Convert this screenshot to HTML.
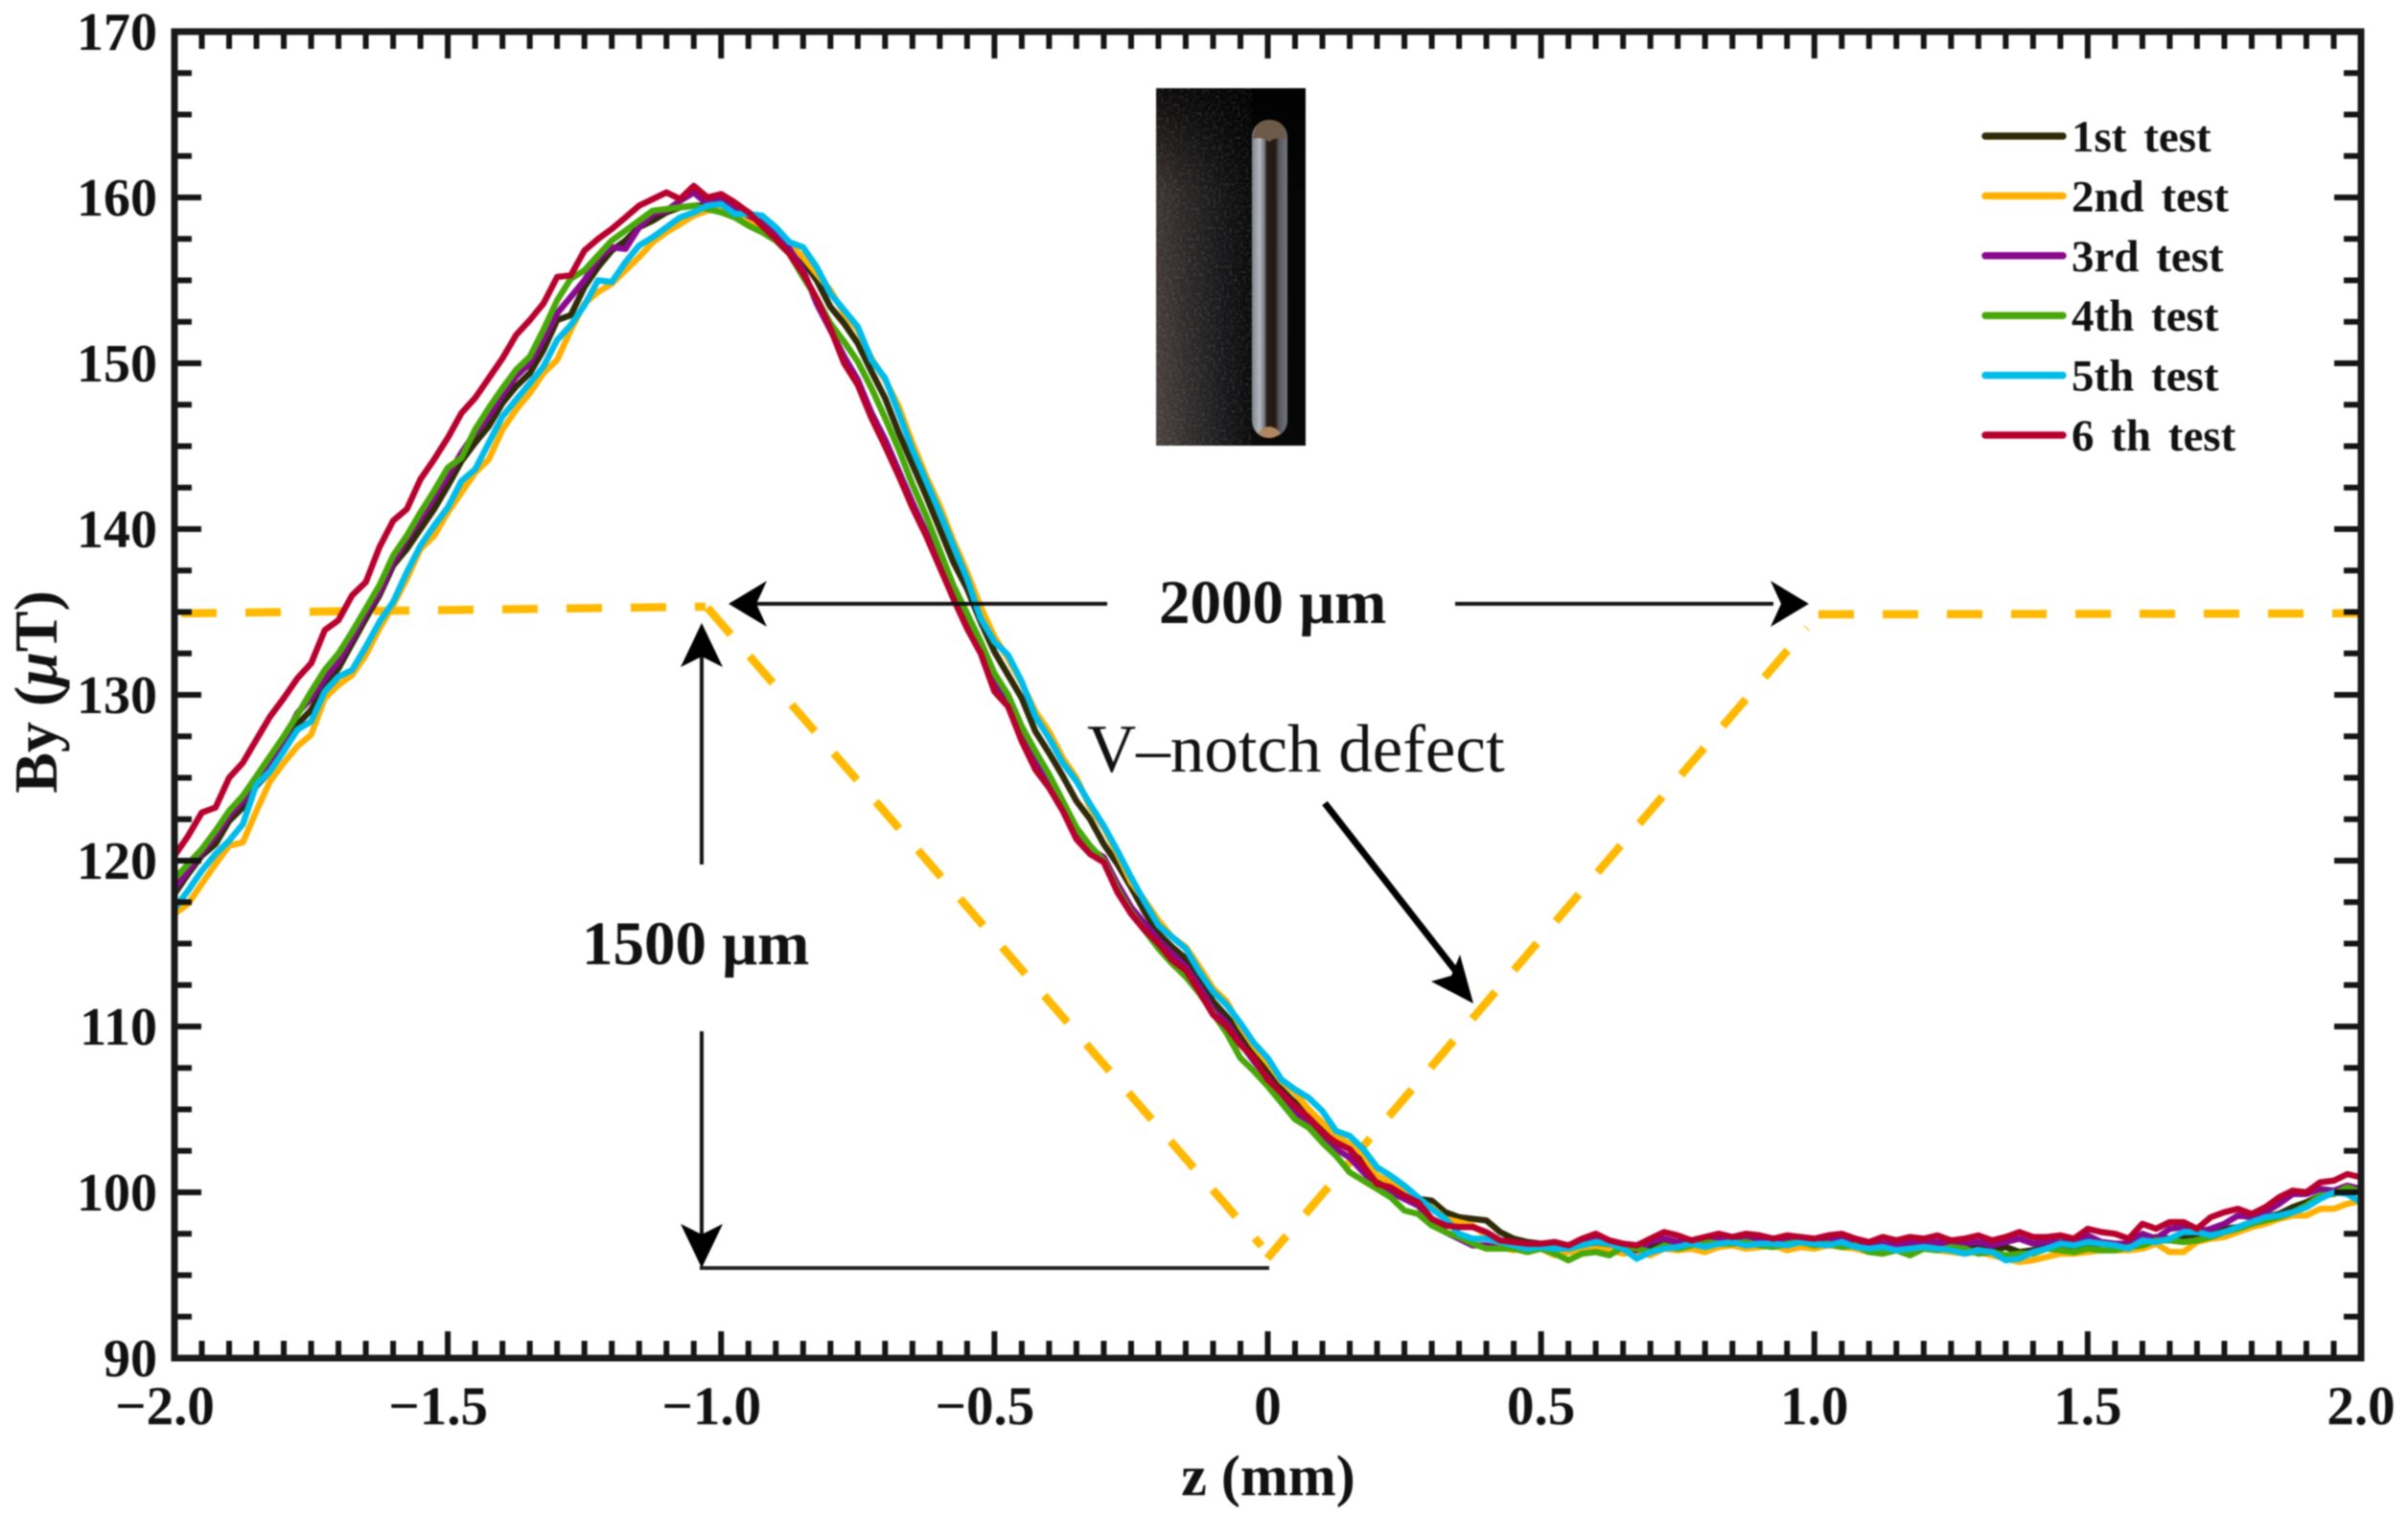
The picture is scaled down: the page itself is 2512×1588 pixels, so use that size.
<!DOCTYPE html>
<html lang="en">
<head>
<meta charset="utf-8">
<title>By versus z for six tests</title>
<style>
html,body{margin:0;padding:0;background:#fff;}
svg{display:block;}
text{font-family:"Liberation Serif",serif;fill:#111;}
.b{font-weight:bold;}
</style>
</head>
<body>
<svg id="chart" xmlns="http://www.w3.org/2000/svg" width="2512" height="1588" viewBox="0 0 2512 1588">
<defs>
<linearGradient id="photoBg" x1="0" x2="1" y1="0" y2="0">
<stop offset="0" stop-color="#4e4340"/><stop offset="0.2" stop-color="#35302f"/><stop offset="0.45" stop-color="#1a1a1c"/><stop offset="0.65" stop-color="#0a0a0b"/><stop offset="1" stop-color="#060606"/>
</linearGradient>
<linearGradient id="photoFade" x1="0" x2="0" y1="0" y2="1">
<stop offset="0" stop-color="#000" stop-opacity="0.85"/><stop offset="0.3" stop-color="#000" stop-opacity="0.2"/><stop offset="1" stop-color="#000" stop-opacity="0"/>
</linearGradient>
<linearGradient id="rodFill" x1="0" x2="1" y1="0" y2="0">
<stop offset="0" stop-color="#80848a"/><stop offset="0.22" stop-color="#b4bac0"/><stop offset="0.36" stop-color="#70747a"/><stop offset="0.42" stop-color="#241c16"/><stop offset="0.66" stop-color="#261a12"/><stop offset="0.76" stop-color="#55585c"/><stop offset="1" stop-color="#74787c"/>
</linearGradient>
<filter id="speckle" x="0" y="0" width="100%" height="100%">
<feTurbulence type="fractalNoise" baseFrequency="0.35" numOctaves="2" seed="4"/>
<feColorMatrix type="matrix" values="0 0 0 0 0.7  0 0 0 0 0.7  0 0 0 0 0.72  1.6 0 0 0 -0.75"/>
</filter>
</defs>
<g id="root" style="filter:blur(0.9px)">
<rect x="0" y="0" width="2512" height="1588" fill="#fff"/>

<g>
<rect x="1206" y="92" width="156" height="373" fill="url(#photoBg)"/>
<rect x="1206" y="92" width="156" height="373" fill="url(#photoFade)"/>
<rect x="1206" y="92" width="100" height="373" filter="url(#speckle)" opacity="0.3"/>
<rect x="1306" y="125" width="37" height="332" rx="18" fill="url(#rodFill)"/>
<path d="M1307 145 Q1308 125 1324 125 Q1341 125 1342 145 Q1332 142 1324 148 Q1316 142 1307 145 Z" fill="#6e5a48"/>
<path d="M1312 452 Q1324 438 1336 452 Q1324 462 1312 452 Z" fill="#b08660"/>
</g>

<g id="dashes" fill="none" stroke="#ffb900" stroke-width="8.5" stroke-dasharray="37 30">
<line x1="189" y1="640" x2="736" y2="633"/>
<line x1="738" y1="634" x2="1316" y2="1300"/>
<line x1="1322" y1="1313" x2="1885" y2="655" stroke-dashoffset="6"/>
<line x1="1897" y1="641" x2="2460" y2="640"/>
</g>

<g id="series"></g>

<g fill="#000" stroke="none">
<line x1="786" y1="630" x2="1155" y2="630" stroke="#111" stroke-width="4"/>
<line x1="1518" y1="630" x2="1850" y2="630" stroke="#111" stroke-width="4"/>
<polygon points="760,630 800,606 789,630 800,654"/>
<polygon points="1887,630 1847,606 1858,630 1847,654"/>
</g>
<text class="b" x="1209" y="650" font-size="65">2000 μm</text>

<g fill="#000" stroke="none">
<line x1="732" y1="680" x2="732" y2="902" stroke="#111" stroke-width="4"/>
<line x1="732" y1="1076" x2="732" y2="1290" stroke="#111" stroke-width="4"/>
<line x1="730" y1="1323" x2="1324" y2="1323" stroke="#222" stroke-width="4"/>
<polygon points="732,650 710,696 732,685 754,696"/>
<polygon points="732,1323 710,1277 732,1288 754,1277"/>
</g>
<text class="b" x="607" y="1006" font-size="65">1500 μm</text>

<text x="1134" y="805" font-size="71">V–notch defect</text>
<g fill="#000">
<line x1="1382" y1="838" x2="1524" y2="1020" stroke="#000" stroke-width="7"/>
<polygon points="1537,1047 1493,1024 1514,1018 1523,996"/>
</g>

<g id="ticks"></g>
<rect x="182" y="33" width="2281" height="1384" fill="none" stroke="#1a1a1a" stroke-width="7"/>
<g id="tickLabels"></g>

<text class="b" x="1323" y="1560" font-size="60" text-anchor="middle">z (mm)</text>
<text class="b" transform="translate(59,722) rotate(-90)" font-size="64" text-anchor="middle">By (<tspan font-style="italic">μ</tspan>T)</text>

<g id="legend"></g>
</g>
</svg>
<script>
const zStart = -2;
const zStep = 0.025;
const xTickValues = [-2, -1.5, -1, -0.5, 0, 0.5, 1, 1.5, 2];
const xTickLabels = ["−2.0", "−1.5", "−1.0", "−0.5", "0", "0.5", "1.0", "1.5", "2.0"];
const yTickValues = [90, 100, 110, 120, 130, 140, 150, 160, 170];
const yTickLabels = ["90", "100", "110", "120", "130", "140", "150", "160", "170"];
const seriesNames = ["1st test", "2nd test", "3rd test", "4th test", "5th test", "6 th test"];
const seriesColors = ["#2f2b08", "#ffb000", "#8a0a8e", "#48a80a", "#00bcea", "#b8002e"];

const test1 = [
118.0,119.2,120.3,121.0,122.4,123.2,124.5,125.4,126.8,128.2,129.1,130.6,131.6,133.1,134.6,136.0,137.8,138.8,140.0,141.2,
142.6,144.1,145.2,146.2,147.6,148.6,149.4,150.8,152.6,152.9,154.6,155.8,156.8,157.4,158.2,158.6,159.1,159.4,159.5,159.5,
159.5,159.3,159.1,158.6,158.0,157.2,156.2,155.0,153.4,152.4,151.2,149.5,147.9,145.8,143.9,142.0,140.0,138.0,136.4,134.4,
132.6,131.2,129.8,127.8,126.5,125.1,123.6,122.5,121.0,119.8,118.4,116.9,115.6,114.8,114.1,112.9,111.5,110.6,109.6,108.4,
107.4,106.2,105.4,105.0,104.0,103.2,102.6,101.8,100.9,100.4,100.0,99.6,99.5,98.8,98.5,98.4,98.3,97.6,97.2,97.0,
96.9,96.6,96.7,96.9,96.8,96.5,96.8,96.6,96.7,96.9,96.8,96.7,97.1,97.0,97.2,97.0,97.1,97.2,96.9,97.1,
97.0,97.2,96.9,97.0,96.7,96.9,96.6,96.8,96.7,96.9,96.6,96.7,96.9,96.5,96.7,96.4,96.5,96.7,96.6,96.8,
96.7,96.9,96.8,96.7,97.0,97.3,97.2,97.3,97.5,97.4,97.8,97.9,98.2,98.5,98.7,99.1,99.4,99.8,99.9,100.2,
100.0];
const test2 = [
116.8,117.4,118.6,119.8,120.9,121.1,123.0,124.8,125.9,126.9,127.6,129.8,130.6,131.2,132.4,134.0,135.4,137.0,138.8,139.6,
141.0,142.2,143.4,144.2,146.0,147.2,148.2,149.4,150.2,152.0,153.6,154.3,154.8,155.6,156.4,157.3,157.9,158.4,158.9,159.2,
159.3,159.0,158.5,158.0,157.8,157.2,156.4,155.4,154.4,153.0,152.0,150.3,149.0,147.4,145.2,143.2,141.4,139.3,137.4,135.3,
133.5,132.2,130.7,129.0,127.8,126.2,125.0,123.2,122.0,120.4,118.7,117.6,116.4,115.4,114.8,113.6,112.3,111.5,110.0,108.8,
107.8,106.7,106.0,105.0,104.2,103.4,102.9,102.3,101.0,100.6,100.0,99.5,99.1,98.4,98.2,98.0,97.4,96.7,96.5,96.8,
96.6,96.2,96.4,96.5,96.6,96.5,96.3,96.4,96.2,96.6,96.5,96.6,96.4,96.7,96.8,96.6,96.7,96.8,96.5,96.7,
96.6,96.8,96.7,96.6,96.4,96.5,96.5,96.3,96.6,96.5,96.4,96.3,96.4,96.2,96.0,95.8,95.9,96.1,96.3,96.3,
96.4,96.5,96.5,96.5,96.6,96.9,96.4,96.4,97.0,97.2,97.3,97.6,97.9,98.1,98.4,98.6,98.6,99.0,99.0,99.3,
99.5];
const test3 = [
118.3,119.4,120.5,121.5,122.7,123.6,125.0,126.0,127.3,128.9,129.8,131.0,132.0,133.4,134.9,136.2,138.0,139.4,140.6,141.9,
143.2,144.6,145.8,146.8,148.1,149.2,150.0,151.4,153.0,154.0,155.0,156.3,157.0,156.9,158.2,159.0,159.2,159.8,160.3,159.6,
159.9,159.4,158.9,158.5,157.7,156.9,155.6,153.6,152.0,150.4,149.0,147.0,145.4,143.5,141.6,139.8,138.0,136.2,134.2,132.6,
130.8,129.5,127.5,126.0,124.8,123.3,121.8,120.7,120.2,118.6,117.2,116.2,115.2,114.4,113.6,112.4,111.0,110.2,109.0,107.9,
106.9,105.9,104.8,104.2,103.3,102.6,102.1,101.2,100.4,100.0,99.6,99.2,98.3,97.6,97.2,96.8,96.8,96.6,96.7,96.6,
96.8,96.9,96.7,97.0,97.2,96.9,96.7,96.5,97.0,97.2,97.0,96.9,97.1,97.2,97.0,97.3,97.1,97.0,97.2,97.1,
97.0,97.1,97.2,97.0,96.8,96.9,96.8,97.0,96.9,97.0,96.8,96.9,97.0,96.8,97.0,97.2,96.9,97.0,97.0,96.9,
97.4,97.0,96.9,96.9,97.5,97.2,97.8,97.9,97.6,97.8,98.1,98.6,98.5,98.8,99.3,99.9,99.9,100.2,100.1,100.4,
100.2];
const test4 = [
118.9,119.8,120.7,121.8,123.0,123.9,125.1,126.3,127.5,128.8,130.2,131.5,132.5,133.8,135.2,136.6,138.4,139.6,141.0,142.3,
143.7,144.3,146.0,147.3,148.5,149.6,150.4,152.0,153.8,155.1,155.6,156.5,157.4,158.0,158.6,159.2,159.3,159.4,159.5,159.3,
159.1,158.8,158.3,157.9,157.4,156.6,155.2,153.9,152.4,151.3,150.1,148.5,146.7,144.8,142.7,140.8,138.7,136.6,134.9,133.2,
131.3,130.0,128.1,126.6,125.2,123.6,122.0,120.9,120.0,118.3,116.9,115.8,114.7,113.8,113.0,112.0,110.8,109.6,108.1,107.3,
106.4,105.4,104.4,103.9,103.0,102.2,101.2,100.7,100.2,99.7,98.9,98.7,98.0,97.6,97.3,96.9,96.6,96.6,96.6,96.4,
96.6,96.3,95.9,96.3,96.4,96.2,96.7,96.6,96.4,96.8,96.6,96.8,97.0,96.9,96.9,97.0,96.8,96.7,96.9,97.0,
96.8,96.9,96.7,96.8,96.4,96.3,96.5,96.2,96.6,96.5,96.7,96.6,96.3,96.4,96.2,96.3,96.3,96.6,96.5,96.4,
96.6,96.5,96.5,96.7,96.8,97.1,97.1,97.0,97.1,97.3,97.6,97.8,98.1,98.3,98.5,98.8,99.2,99.8,99.9,100.3,
100.0];
const test5 = [
117.1,118.2,119.4,120.4,121.2,122.2,124.6,125.4,126.6,127.9,128.4,130.2,131.1,131.5,132.9,134.4,135.6,137.4,139.0,140.2,
141.3,142.9,143.6,145.2,146.8,147.8,148.8,149.8,151.4,152.3,153.5,155.0,154.9,156.1,157.1,157.6,158.2,158.8,159.1,159.5,
159.6,159.0,159.0,158.9,158.2,157.3,157.0,155.8,154.2,153.2,152.2,150.2,149.1,147.0,144.8,142.9,141.0,139.0,137.0,134.6,
133.2,132.4,130.8,128.7,127.4,125.9,124.8,123.4,122.1,120.6,119.0,117.5,116.1,115.4,114.7,113.3,112.1,111.3,110.2,109.0,
108.1,106.8,106.2,105.7,104.9,103.7,103.4,102.6,101.5,101.0,100.4,99.7,99.0,98.4,97.5,97.2,97.2,97.0,96.8,96.6,
96.7,96.6,96.6,96.8,97.0,96.9,96.6,96.0,96.4,96.6,96.7,96.9,96.7,96.9,97.0,96.8,96.9,96.9,96.8,97.0,
96.9,96.8,97.0,96.7,96.6,96.7,96.5,96.6,96.7,96.6,96.5,96.3,96.5,96.4,95.9,96.0,96.4,96.6,96.9,96.8,
97.0,96.9,96.8,96.6,97.1,97.0,97.2,97.6,97.6,97.4,97.6,97.9,98.2,98.5,98.6,98.8,99.1,99.6,100.0,99.9,
99.4];
const test6 = [
120.3,121.5,122.9,123.2,125.0,125.9,127.3,128.7,129.8,131.0,131.9,133.9,134.5,136.0,136.8,138.9,140.5,141.2,143.0,144.2,
145.5,147.0,147.9,149.1,150.3,151.7,152.6,153.6,155.2,155.3,156.8,157.5,158.1,158.8,159.5,159.9,160.3,159.9,160.7,160.0,
160.2,159.7,159.1,158.3,157.5,156.6,155.4,153.9,152.1,150.0,148.7,146.7,145.0,143.2,141.3,139.6,137.7,135.8,134.0,132.5,
130.2,129.3,127.2,125.5,124.4,123.0,121.3,120.4,119.9,118.1,116.8,115.8,115.0,114.0,113.4,112.1,110.7,110.0,108.9,108.1,
106.8,106.0,105.2,104.5,103.6,103.0,102.6,101.6,100.5,100.3,99.8,99.4,98.4,98.0,97.9,97.9,97.6,97.1,97.0,96.9,
96.9,97.0,96.8,97.2,97.5,97.1,96.9,96.8,97.2,97.6,97.4,97.1,97.3,97.5,97.3,97.5,97.4,97.2,97.4,97.3,
97.2,97.4,97.5,97.2,97.0,97.3,97.1,97.3,97.2,97.4,97.1,97.2,97.4,97.1,97.3,97.6,97.3,97.3,97.4,97.2,
97.8,97.6,97.5,97.2,98.1,97.8,98.2,98.2,97.8,98.5,98.8,99.0,98.7,99.1,99.7,100.1,100.0,100.6,100.7,101.1,
100.9];
const allTests = [test1, test2, test3, test4, test5, test6];

const NS = "http://www.w3.org/2000/svg";
const plotLeft = 182, plotRight = 2463, plotTop = 33, plotBottom = 1417;
const xMin = -2, xMax = 2, yMin = 90, yMax = 170;
function xPos(z) { return plotLeft + (z - xMin) / (xMax - xMin) * (plotRight - plotLeft); }
function yPos(v) { return plotBottom - (v - yMin) / (yMax - yMin) * (plotBottom - plotTop); }
function make(tag, attrs) {
  const el = document.createElementNS(NS, tag);
  for (const k in attrs) el.setAttribute(k, attrs[k]);
  return el;
}

const seriesGroup = document.getElementById("series");
allTests.forEach(function (values, s) {
  const pts = values.map(function (v, i) {
    return xPos(zStart + i * zStep).toFixed(1) + "," + yPos(v).toFixed(1);
  }).join(" ");
  const line = make("polyline", { points: pts, fill: "none", stroke: seriesColors[s], "stroke-width": 6.5, "stroke-linejoin": "round", "stroke-linecap": "round" });
  
  
  seriesGroup.appendChild(line);
});

const tickGroup = document.getElementById("ticks");
const majorLen = 28, minorLen = 18, tickColor = "#141414";
function addTick(x1, y1, x2, y2, w) {
  const t = make("line", { x1: x1, y1: y1, x2: x2, y2: y2, stroke: tickColor, "stroke-width": w });
  
  
  tickGroup.appendChild(t);
}
for (let i = 0; i <= 80; i++) {
  const x = xPos(xMin + i * 0.05);
  const len = i % 10 === 0 ? majorLen : minorLen;
  if (i > 0 && i < 80) {
    addTick(x, plotTop, x, plotTop + len, 6);
    addTick(x, plotBottom, x, plotBottom - len, 6);
  }
}
for (let i = 0; i <= 32; i++) {
  const y = yPos(yMin + i * 2.5);
  const len = i % 4 === 0 ? majorLen : minorLen;
  if (i > 0 && i < 32) {
    addTick(plotLeft, y, plotLeft + len, y, 6);
    addTick(plotRight, y, plotRight - len, y, 6);
  }
}

const labelGroup = document.getElementById("tickLabels");
xTickValues.forEach(function (v, i) {
  const offset = v < 0 ? -10 : 0;
  const t = make("text", { x: xPos(v) + offset, y: 1486, "font-size": 57, "font-weight": "bold", "text-anchor": "middle" });
  
  
  t.textContent = xTickLabels[i];
  labelGroup.appendChild(t);
});
yTickValues.forEach(function (v, i) {
  const t = make("text", { x: 164, y: yPos(v) + 19, "font-size": 56, "font-weight": "bold", "text-anchor": "end" });
  
  
  t.textContent = yTickLabels[i];
  labelGroup.appendChild(t);
});

const legendGroup = document.getElementById("legend");
const legendTop = 142, legendGap = 62.4;
seriesNames.forEach(function (name, i) {
  const y = legendTop + i * legendGap;
  const swatch = make("line", { x1: 2071, y1: y, x2: 2152, y2: y, stroke: seriesColors[i], "stroke-width": 7.5, "stroke-linecap": "round" });
  
  
  legendGroup.appendChild(swatch);
  const label = make("text", { x: 2161, y: y + 16, "font-size": 47, "font-weight": "bold", "word-spacing": 6 });
  
  
  label.textContent = name;
  legendGroup.appendChild(label);
});
</script>
</body>
</html>
